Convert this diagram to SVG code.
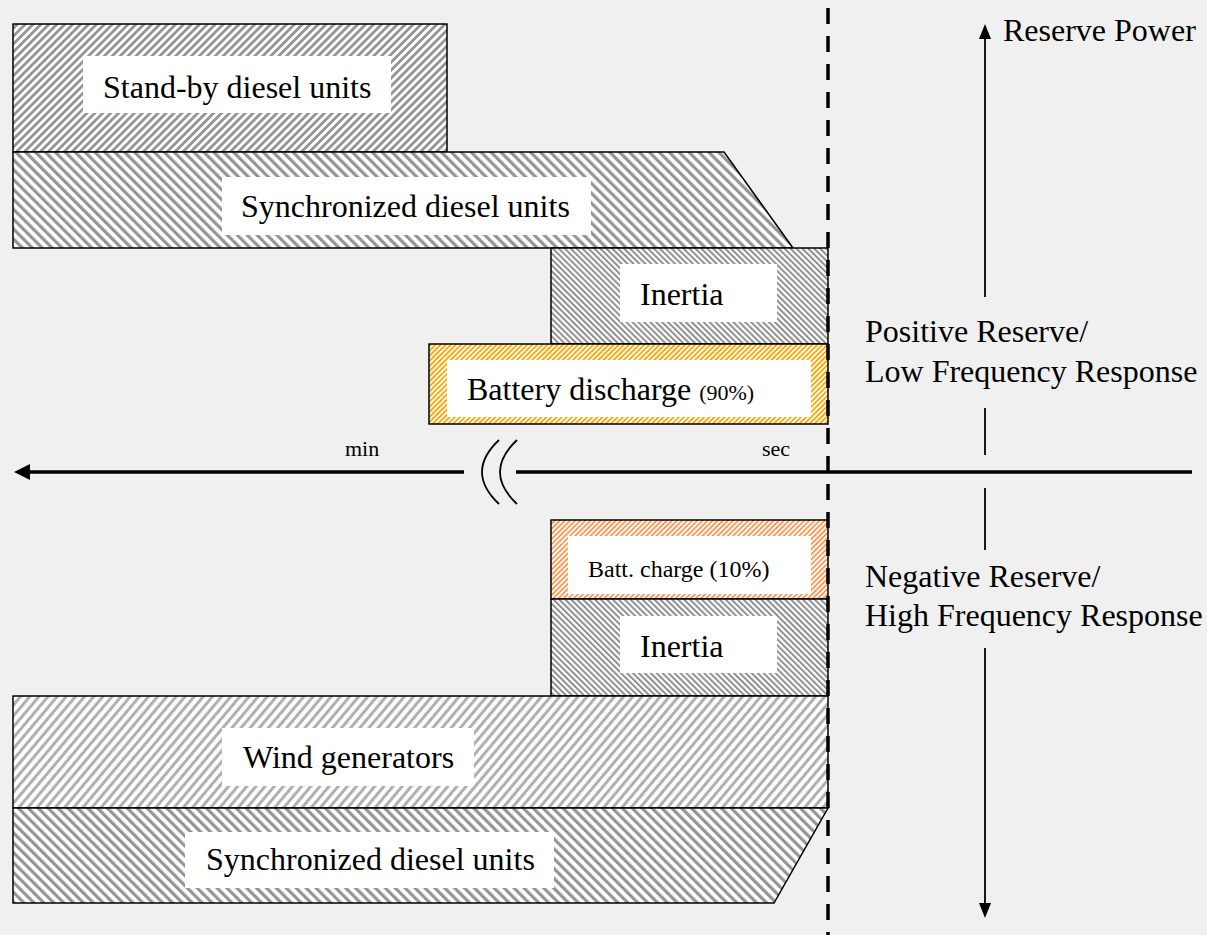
<svg xmlns="http://www.w3.org/2000/svg" width="1207" height="935" viewBox="0 0 1207 935">
<style>
.t{font-family:"Liberation Serif","Times New Roman",serif;fill:#000}
.big{font-size:32px}
.box{stroke:#000;stroke-width:1.5}
.lbl{fill:#fff}
.ax{stroke:#000;stroke-width:3.5;fill:none}
.thin{stroke:#000;stroke-width:1.8;fill:none}
</style>
<defs>
<pattern id="pStandby" patternUnits="userSpaceOnUse" width="5.6" height="10" patternTransform="rotate(45)">
<rect width="5.6" height="10" fill="#fff"/><rect width="2.8" height="10" fill="#959595"/>
</pattern>
<pattern id="pSync" patternUnits="userSpaceOnUse" width="7" height="10" patternTransform="rotate(-45)">
<rect width="7" height="10" fill="#fff"/><rect width="3.2" height="10" fill="#959595"/>
</pattern>
<pattern id="pInertia" patternUnits="userSpaceOnUse" width="4.2" height="10" patternTransform="rotate(-45)">
<rect width="4.2" height="10" fill="#fff"/><rect width="2" height="10" fill="#8f8f8f"/>
</pattern>
<pattern id="pWind" patternUnits="userSpaceOnUse" width="7" height="10" patternTransform="rotate(40)">
<rect width="7" height="10" fill="#fff"/><rect width="3" height="10" fill="#b0b0b0"/>
</pattern>
<pattern id="pBatt" patternUnits="userSpaceOnUse" width="3.6" height="10" patternTransform="rotate(45)">
<rect width="3.6" height="10" fill="#fff"/><rect width="1.8" height="10" fill="#ffa500"/>
</pattern>
<pattern id="pCharge" patternUnits="userSpaceOnUse" width="3.6" height="10" patternTransform="rotate(45)">
<rect width="3.6" height="10" fill="#fff"/><rect width="1.6" height="10" fill="#ff8a3d"/>
</pattern>
</defs>
<rect width="1207" height="935" fill="#f0f0f0"/>

<g id="standby">
<rect class="box" x="13" y="24" width="434" height="128" fill="url(#pStandby)"/>
<rect class="lbl" x="83" y="56" width="308" height="57"/>
<text class="t big" x="103" y="98">Stand-by diesel units</text>
</g>
<g id="sync-top">
<polygon class="box" points="13,152 724,152 793,248 13,248" fill="url(#pSync)"/>
<rect class="lbl" x="222" y="177" width="369" height="58"/>
<text class="t big" x="241" y="217">Synchronized diesel units</text>
</g>
<g id="inertia-top">
<rect class="box" x="551" y="248" width="277" height="96" fill="url(#pInertia)"/>
<rect class="lbl" x="620" y="264" width="157" height="58"/>
<text class="t big" x="640" y="305">Inertia</text>
</g>
<g id="battery-discharge">
<rect class="box" x="429" y="344" width="399" height="80" fill="url(#pBatt)"/>
<rect class="lbl" x="447" y="360" width="364" height="57"/>
<text class="t big" x="467" y="400">Battery discharge <tspan font-size="22">(90%)</tspan></text>
</g>
<g id="batt-charge">
<rect class="box" x="551" y="520" width="277" height="79" fill="url(#pCharge)"/>
<rect class="lbl" x="568" y="536" width="243" height="58"/>
<text class="t" font-size="24" x="588" y="577">Batt. charge (10%)</text>
</g>
<g id="inertia-bottom">
<rect class="box" x="551" y="599" width="277" height="97" fill="url(#pInertia)"/>
<rect class="lbl" x="620" y="616" width="157" height="57"/>
<text class="t big" x="640" y="657">Inertia</text>
</g>
<g id="wind">
<rect class="box" x="13" y="696" width="815" height="112" fill="url(#pWind)"/>
<rect class="lbl" x="222" y="728" width="252" height="58"/>
<text class="t big" x="243" y="768">Wind generators</text>
</g>
<g id="sync-bottom">
<polygon class="box" points="13,808 828,808 774,903 13,903" fill="url(#pSync)"/>
<rect class="lbl" x="185" y="832" width="369" height="56"/>
<text class="t big" x="206" y="870">Synchronized diesel units</text>
</g>

<g id="connectors">
<line x1="828" y1="8" x2="828" y2="935" stroke="#000" stroke-width="3.5" stroke-dasharray="16 12"/>
<line class="ax" x1="28" y1="472" x2="464" y2="472"/>
<polygon points="14,472 30,464 30,480" fill="#000"/>
<line class="ax" x1="516" y1="472" x2="1192" y2="472"/>
<path class="thin" d="M499,440 Q465,472 499,504"/>
<path class="thin" d="M517,440 Q483,472 517,504"/>
<line class="thin" x1="985" y1="36" x2="985" y2="297"/>
<polygon points="985,24 979,39 991,39" fill="#000"/>
<line class="thin" x1="985" y1="408" x2="985" y2="455"/>
<line class="thin" x1="985" y1="488" x2="985" y2="550"/>
<line class="thin" x1="985" y1="648" x2="985" y2="905"/>
<polygon points="985,918 979,903 991,903" fill="#000"/>
</g>

<g id="labels">
<text class="t" font-size="22" x="345" y="456">min</text>
<text class="t" font-size="22" x="762" y="456">sec</text>
<text class="t big" x="1003" y="41">Reserve Power</text>
<text class="t big" x="865" y="342">Positive Reserve/</text>
<text class="t big" x="865" y="382">Low Frequency Response</text>
<text class="t big" x="865" y="587">Negative Reserve/</text>
<text class="t big" x="865" y="626">High Frequency Response</text>
</g>
</svg>
